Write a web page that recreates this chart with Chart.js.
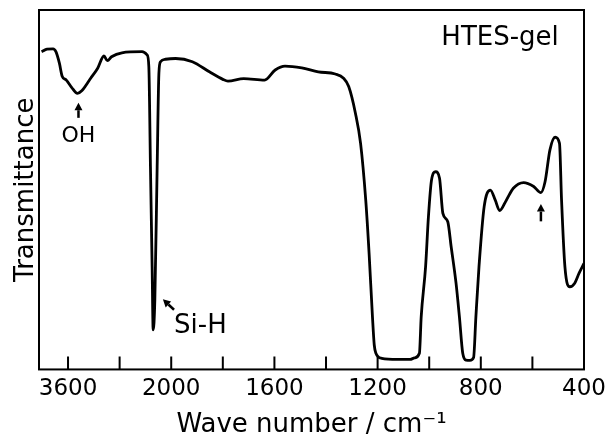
<!DOCTYPE html>
<html>
<head>
<meta charset="utf-8">
<script src="https://cdn.jsdelivr.net/npm/chart.js@4"></script>
<style>
  html, body { margin: 0; padding: 0; background: #fff; }
  #wrap { width: 606px; height: 435px; }
</style>
</head>
<body>
<div id="wrap"><canvas id="irChart"></canvas></div>
<script>
// IR spectrum of HTES-gel (wave number in cm-1, transmittance in arbitrary %)
const wavenumbers = [4010, 3925, 3832, 3788, 3734, 3691, 3626, 3545, 3454, 3383,
    3249, 3140, 3043, 2990, 2925, 2764, 2452, 2374, 2347, 2322,
    2296, 2280, 2254, 2218, 2191, 2166, 2088, 1983, 1918, 1852,
    1800, 1780, 1719, 1638, 1597, 1559, 1494, 1430, 1364, 1332,
    1312, 1286, 1266, 1246, 1233, 1220, 1213, 1207, 1184, 1124,
    1074, 1057, 1038, 1031, 1014, 1003, 991, 975, 960, 947,
    928, 915, 896, 883, 870, 857, 842, 828, 819, 807,
    787, 763, 744, 727, 701, 674, 634, 595, 567, 551,
    532, 512, 495, 487, 474, 455, 436, 419, 400];
const transmittance = [88.4, 89.1, 89.2, 88.4, 85.2, 81.6, 80.5, 78.5, 76.8, 77.6,
    81.0, 83.8, 87.2, 85.9, 87.0, 88.1, 88.4, 87.5, 84.2, 56.4,
    28.6, 11.0, 19.3, 56.4, 82.4, 85.6, 86.3, 86.5, 85.6, 82.8,
    80.7, 80.2, 80.9, 80.5, 83.3, 84.4, 83.9, 82.8, 82.2, 81.0,
    78.7, 71.3, 62.9, 47.1, 32.3, 14.7, 6.8, 4.6, 3.1, 2.8,
    2.8, 3.2, 4.5, 14.7, 28.6, 42.5, 52.7, 55.0, 53.2, 43.4,
    41.1, 34.2, 24.0, 14.7, 4.5, 2.6, 2.5, 3.3, 14.7, 28.6,
    45.3, 49.9, 47.1, 44.2, 47.1, 50.4, 52.0, 50.9, 49.2, 52.2,
    61.1, 64.6, 62.9, 47.1, 28.6, 23.0, 24.0, 26.8, 29.5];

const tickValues = [3600, 2800, 2000, 1800, 1600, 1400, 1200, 1000, 800, 600, 400];
const tickLabels = [3600, 2000, 1600, 1200, 800, 400];

// band labels and arrows (wave number, transmittance)
const notes = [
    { text: 'OH', x: 3438, y: 63.4, size: 22, align: 'center' },
    { text: 'Si-H', x: 1989, y: 10.1, size: 26, align: 'left' },
    { text: 'HTES-gel', x: 953, y: 90.3, size: 26, align: 'left' }
];
const arrows = [
    { from: [3438, 70.0], to: [3438, 74.2] },
    { from: [1989, 16.6], to: [2129, 19.5] },
    { from: [567, 41.2], to: [567, 46.0] }
];

// spectrometer chart paper: 4000-2000 is drawn at a quarter of the scale below 2000
function toAxisUnits(v) {
    return v > 2000 ? 2000 + (v - 2000) / 4 : v;
}

class WavenumberScale extends Chart.LinearScale {
    buildTicks() {
        return tickValues.map(v => ({ value: v }));
    }
    getPixelForValue(value) {
        if (value === null || value === undefined) return NaN;
        return super.getPixelForValue(toAxisUnits(value));
    }
}
WavenumberScale.id = 'wavenumber';
WavenumberScale.defaults = {};
Chart.register(WavenumberScale);

function drawArrow(ctx, x1, y1, x2, y2) {
    const ang = Math.atan2(y2 - y1, x2 - x1);
    const len = 7.5, half = 4;
    const bx = x2 - len * Math.cos(ang), by = y2 - len * Math.sin(ang);
    ctx.lineWidth = 2.5;
    ctx.beginPath();
    ctx.moveTo(x1, y1);
    ctx.lineTo(bx, by);
    ctx.stroke();
    ctx.beginPath();
    ctx.moveTo(x2, y2);
    ctx.lineTo(bx + half * Math.sin(ang), by - half * Math.cos(ang));
    ctx.lineTo(bx - half * Math.sin(ang), by + half * Math.cos(ang));
    ctx.closePath();
    ctx.fill();
}

const irDecor = {
    id: 'irDecor',
    afterDatasetsDraw(chart) {
        const { ctx, chartArea: a, scales: { x, y } } = chart;
        ctx.save();
        ctx.strokeStyle = '#000';
        ctx.fillStyle = '#000';
        ctx.lineWidth = 2;
        ctx.strokeRect(a.left, a.top, a.right - a.left, a.bottom - a.top);

        // tick marks point up into the plot
        ctx.beginPath();
        tickValues.forEach(v => {
            const px = x.getPixelForValue(v);
            ctx.moveTo(px, a.bottom);
            ctx.lineTo(px, a.bottom - 13);
        });
        ctx.stroke();

        arrows.forEach(ar => {
            drawArrow(ctx,
                x.getPixelForValue(ar.from[0]), y.getPixelForValue(ar.from[1]),
                x.getPixelForValue(ar.to[0]), y.getPixelForValue(ar.to[1]));
        });

        notes.forEach(n => {
            ctx.font = n.size + 'px "DejaVu Sans"';
            ctx.textAlign = n.align;
            ctx.textBaseline = 'alphabetic';
            ctx.fillText(n.text, x.getPixelForValue(n.x), y.getPixelForValue(n.y));
        });
        ctx.restore();
    }
};

const points = wavenumbers.map((w, i) => ({ x: w, y: transmittance[i] }));

new Chart(document.getElementById('irChart').getContext('2d'), {
    type: 'line',
    data: {
        datasets: [{
            label: 'HTES-gel',
            data: points,
            borderColor: '#000',
            borderWidth: 2.8,
            pointRadius: 0,
            fill: false,
            cubicInterpolationMode: 'monotone'
        }]
    },
    options: {
        responsive: true,
        maintainAspectRatio: false,
        animation: false,
        layout: { padding: { left: 13, right: 22, top: 10, bottom: 0 } },
        plugins: {
            legend: { display: false },
            tooltip: { enabled: false }
        },
        scales: {
            x: {
                type: 'wavenumber',
                reverse: true,
                min: 400,
                max: toAxisUnits(4050),
                grid: { display: false, drawTicks: false },
                border: { display: false },
                ticks: {
                    autoSkip: false,
                    maxRotation: 0,
                    padding: 0,
                    color: '#000',
                    font: { family: 'DejaVu Sans', size: 23, lineHeight: 1.72 },
                    callback: v => tickLabels.includes(v) ? String(v) : ''
                },
                title: {
                    display: true,
                    text: 'Wave number / cm⁻¹',
                    color: '#000',
                    padding: { top: 6.5, bottom: 0 },
                    font: { family: 'DejaVu Sans', size: 26, lineHeight: 0.75 }
                }
            },
            y: {
                min: 0,
                max: 100,
                grid: { display: false, drawTicks: false },
                border: { display: false },
                ticks: { display: false },
                title: {
                    display: true,
                    text: 'Transmittance',
                    color: '#000',
                    padding: 0,
                    font: { family: 'DejaVu Sans', size: 26, lineHeight: 1 }
                }
            }
        }
    },
    plugins: [irDecor]
});
</script>
</body>
</html>
